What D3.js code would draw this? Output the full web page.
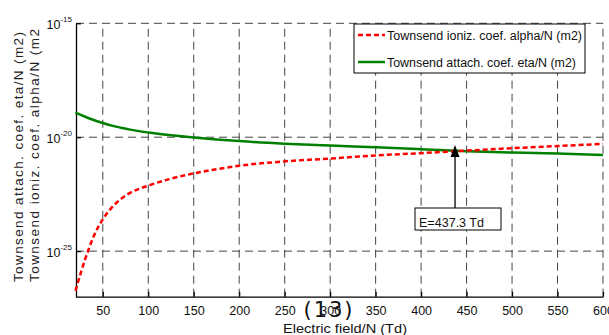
<!DOCTYPE html>
<html>
<head>
<meta charset="utf-8">
<script src="https://cdn.jsdelivr.net/npm/d3@7"></script>
<style>
  html, body { margin: 0; padding: 0; background: #fff; }
  svg { display: block; }
  svg text { font-family: "Liberation Sans", Arial, "DejaVu Sans", sans-serif; }
  svg text.tag { font-family: "DejaVu Sans", sans-serif; }
</style>
</head>
<body>
<svg id="chart" width="609" height="335"></svg>
<script>
// ---- data ----
const fieldTd   = [20, 25, 30, 35, 40, 50, 60, 70, 80, 100, 125, 150, 175, 200, 250, 300, 350, 400, 450, 500, 550, 600];
const alphaN    = [1.82e-27, 8.7e-27, 3.74e-26, 1.39e-25, 4.47e-25, 2.48e-24, 8.3e-24, 1.97e-23, 3.6e-23, 7.5e-23,
                   1.51e-22, 2.58e-22, 3.95e-22, 5.6e-22, 8.7e-22, 1.16e-21, 1.58e-21, 2.0e-21, 2.58e-21, 3.3e-21,
                   4.1e-21, 5.1e-21];
const etaField  = [20, 30, 40, 50, 60, 70, 80, 100, 125, 150, 175, 200, 250, 300, 350, 400, 450, 500, 550, 600];
const etaN      = [1.2e-19, 8.1e-20, 5.7e-20, 4.24e-20, 3.23e-20, 2.61e-20, 2.15e-20, 1.61e-20, 1.22e-20, 9.7e-21,
                   8.0e-21, 6.75e-21, 5.2e-21, 4.28e-21, 3.6e-21, 2.98e-21, 2.45e-21, 2.13e-21, 1.91e-21, 1.67e-21];
const xTicks    = [50, 100, 150, 200, 250, 300, 350, 400, 450, 500, 550, 600];
const yTickExp  = [-25, -20, -15];
const legendLabels = ["Townsend ioniz. coef. alpha/N (m2)", "Townsend attach. coef. eta/N (m2)"];
const yLabelLines  = ["Townsend attach. coef. eta/N (m2)", "Townsend ioniz. coef. alpha/N (m2"];
const xLabel    = "Electric field/N (Td)";
const crossing  = { x: 437.3, y: 2.5e-21, label: "E=437.3 Td" };
const panelTag  = "(13)";

// ---- layout ----
const svg = d3.select("#chart");
const L = 76, R = 603, T = 23.3, B = 296.7;
const x = d3.scaleLinear().domain([20, 600]).range([75.5, R]);
const y = d3.scaleLog().domain([1e-27, 1e-15]).range([B, T]);

// grid
const grid = svg.append("g");
grid.selectAll("line.v").data(xTicks).join("line")
  .attr("x1", d => x(d)).attr("x2", d => x(d)).attr("y1", B).attr("y2", T)
  .attr("stroke", "#444").attr("stroke-width", 1).attr("stroke-dasharray", "8,5");
grid.selectAll("line.h").data(yTickExp).join("line")
  .attr("x1", L).attr("x2", R).attr("y1", d => y(Math.pow(10, d))).attr("y2", d => y(Math.pow(10, d)))
  .attr("stroke", "#444").attr("stroke-width", 1).attr("stroke-dasharray", "8,5");

// x axis
const xAxis = svg.append("g").attr("transform", `translate(0,${B})`)
  .call(d3.axisBottom(x).tickValues(xTicks).tickSizeInner(-5).tickSizeOuter(0).tickPadding(9).tickFormat(d3.format("d")));
xAxis.select(".domain").attr("stroke", "#000").attr("stroke-width", 1.3);
xAxis.selectAll(".tick line").attr("stroke", "#000").attr("stroke-width", 1.2);
xAxis.selectAll(".tick text").attr("font-size", 12.5).attr("fill", "#111");

// y axis
const yAxis = svg.append("g").attr("transform", `translate(${L},0)`)
  .call(d3.axisLeft(y).tickValues(yTickExp.map(e => Math.pow(10, e))).tickSizeInner(-5).tickSizeOuter(0).tickFormat(""));
yAxis.select(".domain").attr("stroke", "#000").attr("stroke-width", 1.3);
yAxis.selectAll(".tick line").attr("stroke", "#000").attr("stroke-width", 1.2);
yAxis.selectAll(".tick").each(function(d) {
  const t = d3.select(this).select("text")
    .attr("x", -4).attr("dy", null).attr("y", 5.5)
    .attr("text-anchor", "end").attr("fill", "#111").text(null);
  t.append("tspan").attr("font-size", 12.5).text("10");
  t.append("tspan").attr("font-size", 8).attr("dy", -7).text(String(Math.round(Math.log10(d))));
});

// curves
const lineGen = d3.line().x(d => x(d[0])).y(d => y(d[1])).curve(d3.curveMonotoneX);
const plot = svg.append("g");
plot.append("path").datum(etaField.map((f, i) => [f, etaN[i]]))
  .attr("d", lineGen).attr("fill", "none").attr("stroke", "#008000").attr("stroke-width", 2.5);
plot.append("path").datum(fieldTd.map((f, i) => [f, alphaN[i]]))
  .attr("d", lineGen).attr("fill", "none").attr("stroke", "#ff0000").attr("stroke-width", 2.5)
  .attr("stroke-dasharray", "5,3");

// legend
const lg = svg.append("g");
lg.append("rect").attr("x", 354).attr("y", 24).attr("width", 231).attr("height", 49)
  .attr("fill", "#fff").attr("stroke", "#000").attr("stroke-width", 1);
const legStyles = [{ c: "#ff0000", dash: "5,3", w: 195 }, { c: "#008000", dash: null, w: 189 }];
legendLabels.forEach((lab, i) => {
  const yy = 35 + i * 27;
  lg.append("line").attr("x1", 358).attr("x2", 385).attr("y1", yy).attr("y2", yy)
    .attr("stroke", legStyles[i].c).attr("stroke-width", 2.5).attr("stroke-dasharray", legStyles[i].dash);
  lg.append("text").attr("x", 387).attr("y", yy + 4.5).attr("font-size", 12.5).attr("fill", "#111")
    .attr("textLength", legStyles[i].w).attr("lengthAdjust", "spacingAndGlyphs").text(lab);
});

// annotation
const ax = x(crossing.x);
const ay = y(crossing.y);
svg.append("line").attr("x1", ax).attr("x2", ax).attr("y1", 208).attr("y2", ay + 4)
  .attr("stroke", "#000").attr("stroke-width", 1.3);
svg.append("path").attr("d", `M${ax},${ay - 6} L${ax - 4.5},${ay + 6} L${ax + 4.5},${ay + 6} Z`).attr("fill", "#000");
svg.append("rect").attr("x", 415).attr("y", 208).attr("width", 86).attr("height", 22)
  .attr("fill", "#fff").attr("stroke", "#000").attr("stroke-width", 1);
svg.append("text").attr("x", 419).attr("y", 226.5).attr("font-size", 13).attr("fill", "#111")
  .attr("textLength", 65).attr("lengthAdjust", "spacingAndGlyphs").text(crossing.label);

// axis labels
svg.append("text").attr("x", 283).attr("y", 333)
  .attr("font-size", 13).attr("fill", "#111")
  .attr("textLength", 124).attr("lengthAdjust", "spacingAndGlyphs").text(xLabel);
const ylx = [23, 39];
yLabelLines.forEach((s, i) => {
  svg.append("text").attr("transform", `translate(${ylx[i]},282) rotate(-90)`)
    .attr("text-anchor", "start").attr("font-size", 13.5).attr("fill", "#222")
    .attr("textLength", i === 0 ? 250 : 253).attr("lengthAdjust", "spacing").text(s);
});

// panel tag
svg.append("text").attr("class", "tag").attr("x", 329).attr("y", 317).attr("text-anchor", "middle")
  .attr("font-size", 21).attr("letter-spacing", 2)
  .attr("fill", "#111").text(panelTag);
</script>
</body>
</html>
